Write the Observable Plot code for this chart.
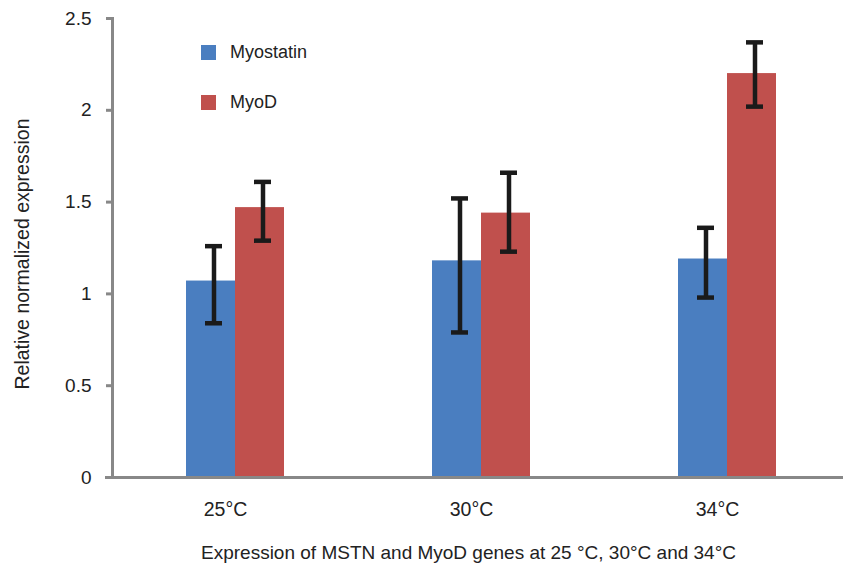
<!DOCTYPE html>
<html>
<head>
<meta charset="utf-8">
<script src="https://cdn.jsdelivr.net/npm/d3@7"></script>
<script src="https://cdn.jsdelivr.net/npm/@observablehq/plot@0.6"></script>
<style>
  html, body { margin: 0; padding: 0; background: #fff; }
  body { width: 843px; overflow: hidden; font-family: "Liberation Sans", Arial, sans-serif; color: #222; }
  #wrap { position: relative; width: 843px; }
  .legend { position: absolute; left: 201px; font-size: 18px; display: flex; align-items: center; }
  .legend .sw { width: 15px; height: 15px; margin-right: 14px; }
  #ylabel { position: absolute; left: 22px; top: 254px; transform: translate(-50%, -50%) rotate(-90deg); white-space: nowrap; font-size: 19.5px; }
  #caption { text-align: center; font-size: 19px; line-height: 22px; margin-top: 2px; padding-left: 94px; }
</style>
</head>
<body>
<div id="wrap"></div>
<div id="caption">Expression of MSTN and MyoD genes at 25 °C, 30°C and 34°C</div>
<script>
const temps = ["25°C", "30°C", "34°C"];
const genes = ["Myostatin", "MyoD"];
const colors = ["#4a7ec0", "#c0504d"];
const myostatin = [1.07, 1.18, 1.19];
const myostatinLo = [0.84, 0.79, 0.98];
const myostatinHi = [1.26, 1.52, 1.36];
const myod = [1.47, 1.44, 2.20];
const myodLo = [1.29, 1.23, 2.02];
const myodHi = [1.61, 1.66, 2.37];
const yTicks = [0, 0.5, 1, 1.5, 2, 2.5];

const data = [];
temps.forEach((t, i) => {
  data.push({temp: t, gene: genes[0], value: myostatin[i], lo: myostatinLo[i], hi: myostatinHi[i]});
  data.push({temp: t, gene: genes[1], value: myod[i], lo: myodLo[i], hi: myodHi[i]});
});

const font = '"Liberation Sans", Arial, sans-serif';

const chart = Plot.plot({
  width: 843,
  height: 540,
  marginLeft: 111,
  marginRight: -8,
  marginTop: 18,
  marginBottom: 63,
  style: {fontFamily: font, fontSize: "19px", color: "#222", background: "#fff"},
  fx: {domain: temps, padding: 0, label: null},
  x: {domain: genes, paddingInner: 0, paddingOuter: 1.465, axis: null},
  y: {domain: [0, 2.5], label: null},
  color: {domain: genes, range: colors},
  marks: [
    Plot.barY(data, {fx: "temp", x: "gene", y: "value", fill: "gene"}),
    Plot.ruleX(data, {fx: "temp", x: "gene", y1: "lo", y2: "hi", stroke: "#1a1a1a", strokeWidth: 4.5, dx: 3}),
    Plot.tickY(data, {fx: "temp", x: "gene", y: "lo", stroke: "#1a1a1a", strokeWidth: 4.5, insetLeft: 16, insetRight: 16, dx: 3}),
    Plot.tickY(data, {fx: "temp", x: "gene", y: "hi", stroke: "#1a1a1a", strokeWidth: 4.5, insetLeft: 16, insetRight: 16, dx: 3}),
    Plot.axisY({ticks: yTicks, tickFormat: d => String(d), tickSize: 6, tickPadding: 15, stroke: "#888", strokeWidth: 3, label: null, fontSize: 19}),
    Plot.axisFx({anchor: "bottom", tickSize: 0, tickPadding: 25, label: null, fontSize: 19.5, dx: -10}),
    Plot.frame({anchor: "left", facetAnchor: "left", stroke: "#888", strokeWidth: 3}),
    Plot.ruleY([0], {stroke: "#888", strokeWidth: 3, insetLeft: -7})
  ]
});

const wrap = document.getElementById("wrap");
wrap.appendChild(chart);

genes.forEach((g, i) => {
  const d = document.createElement("div");
  d.className = "legend";
  d.style.top = (i === 0 ? 42 : 92) + "px";
  d.innerHTML = `<div class="sw" style="background:${colors[i]}"></div><span>${g}</span>`;
  wrap.appendChild(d);
});
const yl = document.createElement("div");
yl.id = "ylabel";
yl.textContent = "Relative normalized expression";
wrap.appendChild(yl);
</script>
</body>
</html>
